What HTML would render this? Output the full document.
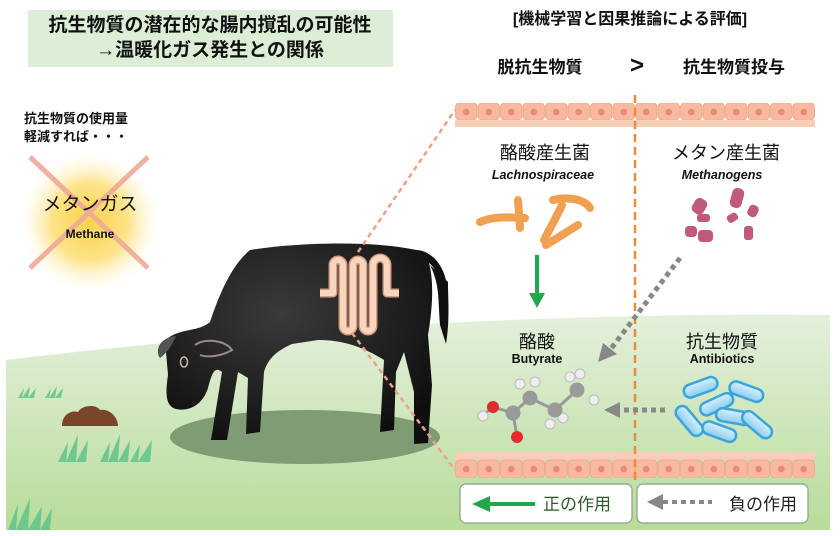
<!DOCTYPE html>
<html><head><meta charset="utf-8"><style>
html,body{margin:0;padding:0;background:#fff;}
svg{display:block;}
text{font-family:"Liberation Sans","Noto Sans CJK JP",sans-serif;}
</style></head><body>
<svg width="840" height="536" viewBox="0 0 840 536" xmlns="http://www.w3.org/2000/svg">
<defs>
<linearGradient id="gr" x1="0" y1="0" x2="0" y2="1">
<stop offset="0" stop-color="#e4f0dc"/><stop offset="1" stop-color="#b8dc9a"/></linearGradient>
<radialGradient id="glow"><stop offset="0" stop-color="#fbd24a"/><stop offset="0.55" stop-color="#fde38a"/><stop offset="1" stop-color="#fff8e0" stop-opacity="0"/></radialGradient>
<radialGradient id="cowg" cx="0.45" cy="0.35" r="0.7"><stop offset="0" stop-color="#3a3a3a"/><stop offset="1" stop-color="#0e0e0e"/></radialGradient>
<pattern id="cellsT" x="455" y="103" width="22.5" height="26" patternUnits="userSpaceOnUse">
<rect x="0.5" y="0" width="21.5" height="17" rx="4" fill="#f7b9a0" stroke="#eea68b" stroke-width="0.8"/>
<circle cx="11.25" cy="9" r="3.3" fill="#ea8a74"/>
<rect x="0" y="17" width="22.5" height="7" fill="#f8cdb8"/>
</pattern>
<pattern id="cellsB" x="455" y="452" width="22.5" height="26" patternUnits="userSpaceOnUse">
<rect x="0" y="0" width="22.5" height="8" fill="#f8cdb8"/>
<rect x="0.5" y="8" width="21.5" height="18" rx="4" fill="#f7b9a0" stroke="#eea68b" stroke-width="0.8"/>
<circle cx="11.25" cy="17" r="3.3" fill="#ea8a74"/>
</pattern>
<linearGradient id="blue" x1="0" y1="0" x2="0" y2="1"><stop offset="0" stop-color="#d8f0fc"/><stop offset="1" stop-color="#8ccdf0"/></linearGradient>
</defs>

<path d="M6,360 C250,330 550,312 830,315 L830,530 L6,530 Z" fill="url(#gr)"/>

<g fill="#5fc48a" opacity="0.85">
<path d="M18,398 l6,-10 l-2,10 l8,-12 l-2,12 l8,-10 l-2,10 z M45,398 l6,-10 l-2,10 l8,-12 l-2,12 l8,-10 l-2,10 z"/>
<path d="M58,462 l10,-20 l-2,20 l12,-28 l-2,28 l12,-22 l-2,22 z M100,462 l10,-20 l-2,20 l12,-28 l-2,28 l12,-22 l-2,22 z M130,462 l10,-18 l-2,18 l14,-22 l-2,22 z"/>
<path d="M8,530 l10,-26 l-2,26 l14,-32 l-2,32 l14,-24 l-2,24 l12,-22 l-2,22 z"/>
</g>
<path d="M62,426 C62,414 72,410 78,412 C82,405 96,404 100,410 C108,408 118,416 118,426 Z" fill="#7a4528"/>

<rect x="28" y="10" width="365" height="57" fill="#dcefd6"/>
<text x="210" y="31" font-size="19" text-anchor="middle" fill="#111" font-weight="bold">抗生物質の潜在的な腸内撹乱の可能性</text>
<text x="210" y="56" font-size="19" text-anchor="middle" fill="#111" font-weight="bold">→温暖化ガス発生との関係</text>

<text x="24" y="123" font-size="13" font-weight="bold" fill="#111">抗生物質の使用量</text>
<text x="24" y="141" font-size="13" font-weight="bold" fill="#111">軽減すれば・・・</text>

<circle cx="90" cy="222" r="70" fill="url(#glow)"/>
<g stroke="#eeaa98" stroke-width="5" opacity="0.9"><line x1="30" y1="157" x2="148" y2="268"/><line x1="148" y1="157" x2="30" y2="268"/></g>
<text x="90" y="210" font-size="19" text-anchor="middle" fill="#111">メタンガス</text>
<text x="90" y="238" font-size="12" text-anchor="middle" font-weight="bold" fill="#111">Methane</text>

<text x="630" y="24" font-size="16" text-anchor="middle" font-weight="bold" fill="#111">[機械学習と因果推論による評価]</text>
<text x="540" y="73" font-size="17" text-anchor="middle" font-weight="bold" fill="#111">脱抗生物質</text>
<text x="637" y="73" font-size="24" text-anchor="middle" font-weight="bold" fill="#111">&gt;</text>
<text x="734" y="73" font-size="17" text-anchor="middle" font-weight="bold" fill="#111">抗生物質投与</text>

<ellipse cx="305" cy="437" rx="135" ry="27" fill="#7f9c74"/>

<path d="M448,282 C448,300 450,320 446,344 L440,325 C438,300 440,285 430,265 Z" fill="#111"/>
<path d="M405,252 C420,245 440,255 446,280 L440,283 C436,262 420,255 410,258 Z" fill="#111"/>
<path d="M250,250 C300,242 380,240 425,252 C434,270 434,300 428,335 L432,385 L428,443 L414,444 L414,392 L404,352 L396,372 L394,430 L380,432 L384,360 C360,345 340,340 318,340 L292,344 C278,350 268,358 264,372 L260,432 L246,434 L248,378 L238,372 L227,440 L211,440 L222,372 C215,366 212,372 208,388 C203,404 190,412 176,409 C166,406 165,395 168,375 L166,352 L160,358 C156,352 158,342 168,338 C182,328 198,332 210,322 C220,292 232,265 250,250 Z" fill="url(#cowg)"/>
<path d="M160,358 C156,346 162,338 176,336 C172,345 168,352 160,358 Z" fill="#555"/>
<path d="M195,345 C205,338 225,340 232,350 C222,356 208,358 200,355" fill="none" stroke="#9a8c84" stroke-width="2"/>
<ellipse cx="184" cy="362" rx="3.5" ry="5" fill="none" stroke="#c8b8ae" stroke-width="1.5"/>

<g stroke="#eda08a" stroke-width="2.5" stroke-dasharray="5,4" fill="none">
<line x1="358" y1="252" x2="455" y2="110"/>
<line x1="352" y1="333" x2="455" y2="470"/>
</g>

<path d="M320,293 L333,293 L333,265 A5,5 0 0 1 343,265 L343,326 A5,5 0 0 0 353,326 L353,265 A5,5 0 0 1 363,265 L363,326 A5,5 0 0 0 373,326 L373,265 A7,7 0 0 1 387,265 L387,293 L399,293" fill="none" stroke="#d59a7e" stroke-width="9" stroke-linejoin="round"/>
<path d="M320,293 L333,293 L333,265 A5,5 0 0 1 343,265 L343,326 A5,5 0 0 0 353,326 L353,265 A5,5 0 0 1 363,265 L363,326 A5,5 0 0 0 373,326 L373,265 A7,7 0 0 1 387,265 L387,293 L399,293" fill="none" stroke="#f7d6bd" stroke-width="6" stroke-linejoin="round"/>

<rect x="455" y="103" width="360" height="25" fill="url(#cellsT)"/>
<rect x="455" y="452" width="360" height="26" fill="url(#cellsB)"/>

<line x1="635" y1="95" x2="635" y2="482" stroke="#ee8a3a" stroke-width="2.5" stroke-dasharray="8,5"/>

<text x="545" y="159" font-size="18" text-anchor="middle" fill="#111">酪酸産生菌</text>
<text x="543" y="179" font-size="12.5" text-anchor="middle" font-weight="bold" font-style="italic" fill="#111">Lachnospiraceae</text>
<text x="726" y="159" font-size="18" text-anchor="middle" fill="#111">メタン産生菌</text>
<text x="722" y="179" font-size="12.5" text-anchor="middle" font-weight="bold" font-style="italic" fill="#111">Methanogens</text>

<g stroke="#f0a050" stroke-width="8" stroke-linecap="round" fill="none">
<path d="M480,222 C495,215 515,218 525,218"/>
<path d="M518,200 L520,228"/>
<path d="M553,200 C570,196 585,200 590,208"/>
<path d="M562,205 C555,220 548,232 544,240"/>
<path d="M546,245 L578,225"/>
</g>
<g fill="#c05a78">
<rect x="693" y="198" width="13" height="16" rx="5" transform="rotate(30 699 206)"/>
<rect x="731" y="188" width="12" height="20" rx="5" transform="rotate(15 737 198)"/>
<rect x="748" y="205" width="10" height="12" rx="4" transform="rotate(25 753 211)"/>
<rect x="697" y="214" width="13" height="8" rx="3"/>
<rect x="727" y="214" width="11" height="8" rx="3" transform="rotate(-30 732 218)"/>
<rect x="685" y="226" width="12" height="11" rx="4"/>
<rect x="698" y="230" width="15" height="12" rx="4"/>
<rect x="744" y="226" width="9" height="14" rx="3"/>
</g>

<line x1="537" y1="255" x2="537" y2="295" stroke="#22a84a" stroke-width="4"/>
<polygon points="529,293 545,293 537,308" fill="#22a84a"/>

<line x1="680" y1="258" x2="610" y2="350" stroke="#888" stroke-width="5" stroke-dasharray="5,4"/>
<polygon points="598,362 603,343 617,354" fill="#888"/>

<text x="537" y="348" font-size="18" text-anchor="middle" fill="#111">酪酸</text>
<text x="537" y="363" font-size="12.5" text-anchor="middle" font-weight="bold" fill="#111">Butyrate</text>
<text x="722" y="348" font-size="18" text-anchor="middle" fill="#111">抗生物質</text>
<text x="722" y="363" font-size="12.5" text-anchor="middle" font-weight="bold" fill="#111">Antibiotics</text>

<g stroke="#999" stroke-width="3">
<line x1="493" y1="407" x2="513" y2="413"/><line x1="513" y1="413" x2="517" y2="437"/>
<line x1="513" y1="413" x2="530" y2="398"/><line x1="530" y1="398" x2="555" y2="410"/>
<line x1="555" y1="410" x2="575" y2="392"/><line x1="483" y1="415" x2="493" y2="407"/>
</g>
<g fill="#eee" stroke="#bbb" stroke-width="1">
<circle cx="483" cy="416" r="5"/><circle cx="520" cy="384" r="5"/><circle cx="535" cy="382" r="5"/>
<circle cx="550" cy="424" r="5"/><circle cx="563" cy="418" r="5"/><circle cx="570" cy="377" r="5"/>
<circle cx="580" cy="374" r="5"/><circle cx="594" cy="400" r="5"/>
</g>
<circle cx="493" cy="407" r="6" fill="#e42a2a"/><circle cx="517" cy="437" r="6" fill="#e42a2a"/>
<g fill="#9a9a9a"><circle cx="513" cy="413" r="7.5"/><circle cx="530" cy="398" r="7.5"/><circle cx="555" cy="410" r="7.5"/><circle cx="577" cy="390" r="7.5"/></g>

<line x1="665" y1="410" x2="620" y2="410" stroke="#888" stroke-width="5" stroke-dasharray="5,4"/>
<polygon points="604,410 620,402 620,418" fill="#888"/>

<g fill="url(#blue)" stroke="#3aa5dc" stroke-width="2.5">
<rect x="683" y="381" width="35" height="13" rx="6.5" transform="rotate(-20 700 387)"/>
<rect x="729" y="385" width="35" height="13" rx="6.5" transform="rotate(20 746 391)"/>
<rect x="699" y="398" width="35" height="13" rx="6.5" transform="rotate(-25 716 404)"/>
<rect x="716" y="410" width="35" height="13" rx="6.5" transform="rotate(10 733 416)"/>
<rect x="672" y="415" width="35" height="13" rx="6.5" transform="rotate(50 690 421)"/>
<rect x="740" y="418" width="35" height="13" rx="6.5" transform="rotate(40 757 424)"/>
<rect x="702" y="425" width="35" height="13" rx="6.5" transform="rotate(20 719 431)"/>
</g>

<rect x="460" y="484" width="172" height="39" rx="6" fill="#fff" stroke="#8aa08a" stroke-width="1.2"/>
<rect x="637" y="484" width="171" height="39" rx="6" fill="#fff" stroke="#8aa08a" stroke-width="1.2"/>
<line x1="490" y1="504" x2="535" y2="504" stroke="#22a84a" stroke-width="4"/>
<polygon points="472,504 490,496 490,512" fill="#22a84a"/>
<text x="577" y="510" font-size="17" text-anchor="middle" fill="#2e5a2a">正の作用</text>
<line x1="663" y1="502" x2="712" y2="502" stroke="#888" stroke-width="4" stroke-dasharray="5,4"/>
<polygon points="647,502 663,494 663,510" fill="#888"/>
<text x="763" y="510" font-size="17" text-anchor="middle" fill="#222">負の作用</text>
</svg>
</body></html>
